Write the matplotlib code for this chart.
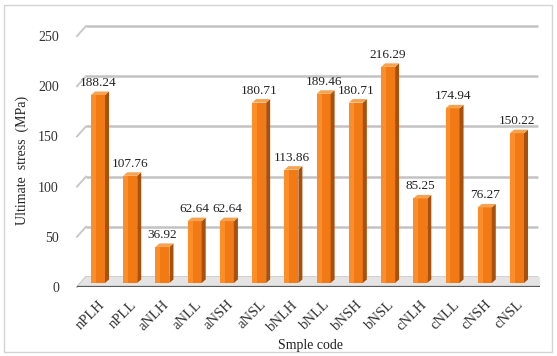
import numpy as np
import matplotlib.pyplot as plt
from matplotlib.patches import Polygon, Rectangle

plt.rcParams['font.family'] = ['Liberation Serif', 'DejaVu Serif']

codes = ['nPLH', 'nPLL', 'aNLH', 'aNLL', 'aNSH', 'aNSL', 'bNLH', 'bNLL',
         'bNSH', 'bNSL', 'cNLH', 'cNLL', 'cNSH', 'cNSL']
stress = [188.24, 107.76, 36.92, 62.64, 62.64, 180.71, 113.86, 189.46,
          180.71, 216.29, 85.25, 174.94, 76.27, 150.22]
yticks = [0, 50, 100, 150, 200, 250]

W, H = 557, 356
fig = plt.figure(figsize=(W / 100, H / 100), dpi=100)
fig.patches.append(Rectangle((4 / W, 4 / H), 548 / W, 347 / H,
                             transform=fig.transFigure, fill=False,
                             edgecolor='#d4d4d4', lw=1))

x = np.arange(len(codes))
step = (517 - 98) / (len(codes) - 1)      # pixels per category
x_left = -(98 - 77) / step
x_right = (len(codes) - 1) + (540 - 517) / step
ax = fig.add_axes([77 / W, (H - 287) / H, 463 / W, 261 / H])
ax.set_xlim(x_left, x_right)
ax.set_ylim(0, 260)
for s in ax.spines.values():
    s.set_visible(False)

# depth of the back wall in data units
px_y = 260 / 261
back_dx = 9 / step
back_dy = 10 * px_y

# back-wall gridlines with a short slanted lead-in
for v in yticks:
    ax.plot([x_left + back_dx, x_right - 2 / step], [v + back_dy, v + back_dy],
            color='#c2c2c2', lw=1.8, zorder=2, clip_on=False,
            solid_capstyle='butt')
    ax.plot([x_left, x_left + back_dx], [v, v + back_dy],
            color='#c8c8c8', lw=1.4, zorder=2, clip_on=False)

# floor
ax.add_patch(Polygon([[x_left, 0], [x_right, 0], [x_right, back_dy],
                      [x_left + back_dx, back_dy]],
                     closed=True, facecolor='#e4e4e4', edgecolor='none', zorder=2.2))
ax.plot([x_left, x_right], [0, 0], color='#5a5a5a', lw=1.6, zorder=2.5)

# 3-D looking bars
bw = 14 / step
dx = 4 / step
dy = 3.5
base = 4
for xi, v in zip(x, stress):
    l, r = xi - bw / 2, xi + bw / 2
    ax.add_patch(Rectangle((l, base), bw, v - base + 3, facecolor='#f27a14',
                           edgecolor='none', zorder=3))
    ax.add_patch(Rectangle((l, base), bw * 0.35, v - base + 3, facecolor='#fb8e2a',
                           edgecolor='none', zorder=3))
    ax.add_patch(Polygon([[r, base], [r + dx, base + dy], [r + dx, v + 3 + dy],
                          [r, v + 3]], facecolor='#a9500c', edgecolor='none',
                         zorder=3))
    ax.add_patch(Polygon([[l, v + 3], [r, v + 3], [r + dx, v + 3 + dy],
                          [l + dx, v + 3 + dy]], facecolor='#f7a24f',
                         edgecolor='none', zorder=3))
    ax.text(xi, v + 9, f'{v:.2f}', ha='center', va='bottom', fontsize=9.5,
            color='#222222', zorder=4)

ax.set_yticks(yticks)
ax.set_yticklabels([str(t) for t in yticks], fontsize=10, color='#333333')
ax.tick_params(axis='y', length=0, pad=13)
ax.set_xticks(x)
ax.set_xticklabels(codes, rotation=45, ha='right', va='top', fontsize=10.5,
                   color='#333333', rotation_mode='anchor')
ax.tick_params(axis='x', length=0, pad=8)

fig.text(22 / W, 1 - 160 / H, 'Ultimate  stress  (MPa)', rotation=90,
         ha='center', va='center', fontsize=10, color='#222222')
fig.text(310 / W, 1 - 345 / H, 'Smple code', ha='center', va='center',
         fontsize=10, color='#222222')

fig.savefig('out.png', dpi=100)
